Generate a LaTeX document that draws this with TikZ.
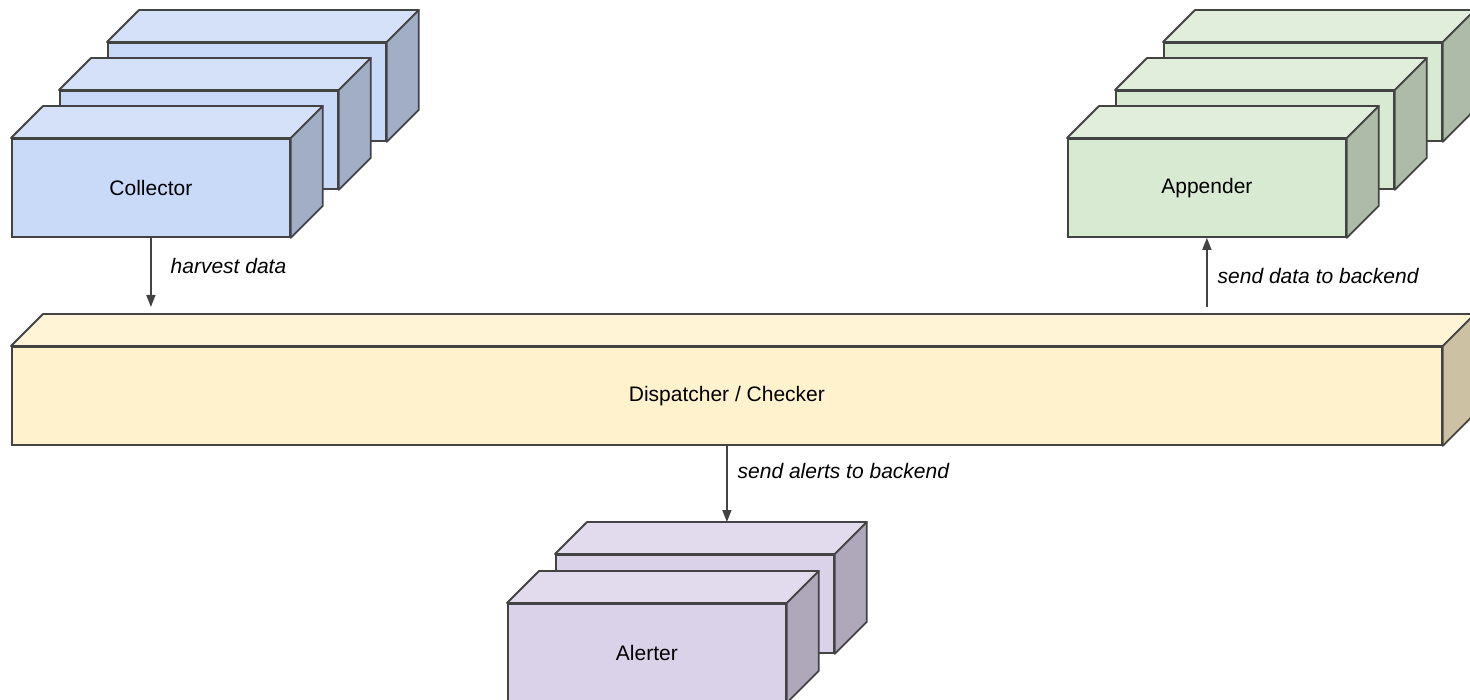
\documentclass[tikz,border=0pt]{standalone}
\usepackage{fontspec}
\setmainfont{Liberation Sans}
\usetikzlibrary{arrows.meta}
\definecolor{stroke}{HTML}{434343}
\definecolor{arrowc}{HTML}{434343}
\definecolor{bluefront}{HTML}{C9DAF8}
\definecolor{bluetop}{HTML}{D4E1F9}
\definecolor{blueside}{HTML}{A1AEC6}
\definecolor{greenfront}{HTML}{D9EAD3}
\definecolor{greentop}{HTML}{E1EEDC}
\definecolor{greenside}{HTML}{AEBBA9}
\definecolor{yellowfront}{HTML}{FFF2CC}
\definecolor{yellowtop}{HTML}{FFF4D6}
\definecolor{yellowside}{HTML}{CCC2A3}
\definecolor{purplefront}{HTML}{D9D2E9}
\definecolor{purpletop}{HTML}{E1DBED}
\definecolor{purpleside}{HTML}{AEA8BA}
\tikzset{
  face/.style={draw=stroke, line width=1.8pt, inner sep=0pt, anchor=north west,
    minimum height=98pt, font=\fontsize{21}{25}\selectfont},
  facet/.style={draw=stroke, line width=1.8pt, line join=round},
  arr/.style={draw=arrowc, line width=1.6pt, -{Triangle[length=12pt,width=9pt]}},
  lbl/.style={font=\fontsize{21}{25}\selectfont\itshape, inner sep=0pt, anchor=west}
}
% name, x, y, width, colour prefix, text
\newcommand\cubebox[6]{%
  \node[face, fill=#5front, minimum width=#4pt] (#1) at (#2,#3) {#6};
  \filldraw[facet, fill=#5top] (#1.north west) -- ([shift={(32,-32)}]#1.north west)
    -- ([shift={(32,-32)}]#1.north east) -- (#1.north east) -- cycle;
  \filldraw[facet, fill=#5side] (#1.north east) -- ([shift={(32,-32)}]#1.north east)
    -- ([shift={(32,-32)}]#1.south east) -- (#1.south east) -- cycle;
}
\begin{document}
\begin{tikzpicture}[x=1pt,y=-1pt]
\useasboundingbox (0,0) rectangle (1470,700);
% Collector stack
\cubebox{collc}{107}{42}{278}{blue}{}
\cubebox{collb}{59}{90}{278}{blue}{}
\cubebox{coll}{11}{138}{278}{blue}{Collector}
% Appender stack
\cubebox{appc}{1163}{42}{278}{green}{}
\cubebox{appb}{1115}{90}{278}{green}{}
\cubebox{app}{1067}{138}{278}{green}{Appender}
% Dispatcher
\cubebox{disp}{11}{346}{1430}{yellow}{Dispatcher / Checker}
\coordinate (disptop) at ([yshift=32pt]disp.north);
% Alerter stack
\cubebox{alertb}{555}{554}{278}{purple}{}
\cubebox{alert}{507}{603}{278}{purple}{Alerter}
\coordinate (alerttop) at ([yshift=32pt]alertb.north);
% Connectors
\draw[arr, shorten >=7pt] (coll.south) -- node[lbl, pos=0.37, xshift=19pt] {harvest data} (coll.south |- disptop);
\draw[arr, shorten <=7pt] (app.south |- disptop) -- node[lbl, pos=0.5, xshift=10pt] {send data to backend} (app.south);
\draw[arr] (disp.south) -- node[lbl, pos=0.33, xshift=10pt] {send alerts to backend} (disp.south |- alerttop);
\end{tikzpicture}
\end{document}
